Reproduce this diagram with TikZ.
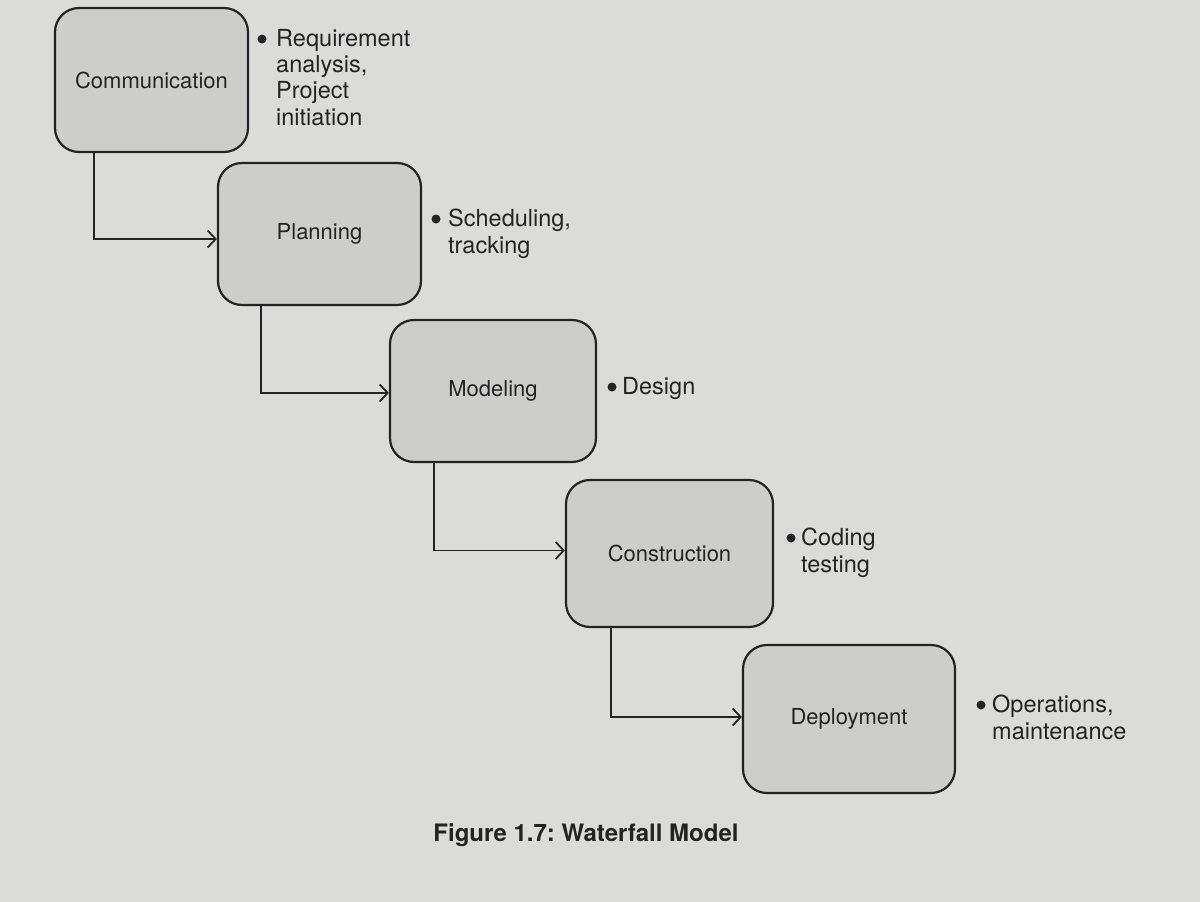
\documentclass[tikz,border=0pt]{standalone}
\usepackage{fontspec}
\setmainfont{TeX Gyre Heros}
\usetikzlibrary{arrows.meta}
\definecolor{paper}{RGB}{219,219,216}
\definecolor{boxfill}{RGB}{205,205,202}
\definecolor{ink}{RGB}{35,35,35}
\frenchspacing
\begin{document}
\begin{tikzpicture}[x=1pt,y=-1pt,
  phase/.style={draw=ink, line width=2.2pt, fill=boxfill, rounded corners=24pt,
    inner sep=0pt, font=\fontsize{22}{26}\selectfont, text=ink},
  flow/.style={draw=ink, line width=1.8pt, -{Straight Barb[length=8pt,width=17pt,line width=1.8pt]}},
  note/.style={anchor=north west, inner sep=0pt, align=left, text=ink,
    font=\fontsize{23.5}{26.3}\selectfont},
  dot/.style={circle, fill=ink, inner sep=0pt, minimum size=9pt}]
\fill[paper] (0,0) rectangle (1200,902);
\useasboundingbox (0,0) rectangle (1200,902);

\node[phase, minimum width=193pt, minimum height=144pt] (c) at (151.5,80) {Communication};
\node[phase, minimum width=203pt, minimum height=142pt] (p) at (319.5,234) {Planning};
\node[phase, minimum width=206pt, minimum height=142pt] (m) at (493,391) {Modeling};
\node[phase, minimum width=207pt, minimum height=147pt] (k) at (669.5,553.5) {Construction};
\node[phase, minimum width=212pt, minimum height=148pt] (d) at (849,719) {Deployment};

\draw[flow] ([xshift=40pt]c.south west) |- ([yshift=-5pt]p.west);
\draw[flow] ([xshift=44pt]p.south west) |- ([yshift=-2pt]m.west);
\draw[flow] ([xshift=45pt]m.south west) |- ([yshift=3pt]k.west);
\draw[flow] ([xshift=46pt]k.south west) |- ([yshift=2pt]d.west);

\node[dot] (b1) at (262,39) {};
\node[note] (t1) at (276,29) {Requirement\\analysis,\\Project\\initiation};
\node[dot] (b2) at (436,219) {};
\node[note] (t2) at (448,209) {Scheduling,\\tracking};
\node[dot] (b3) at (612,387) {};
\node[note] (t3) at (622,377) {Design};
\node[dot] (b4) at (791,538) {};
\node[note] (t4) at (801,528) {Coding\\testing};
\node[dot] (b5) at (981,705) {};
\node[note] (t5) at (992,695) {Operations,\\maintenance};

\node[font=\fontsize{24}{28}\selectfont\bfseries, text=ink, inner sep=0pt] (cap) at (586,835) {Figure 1.7: Waterfall Model};
\end{tikzpicture}
\end{document}
